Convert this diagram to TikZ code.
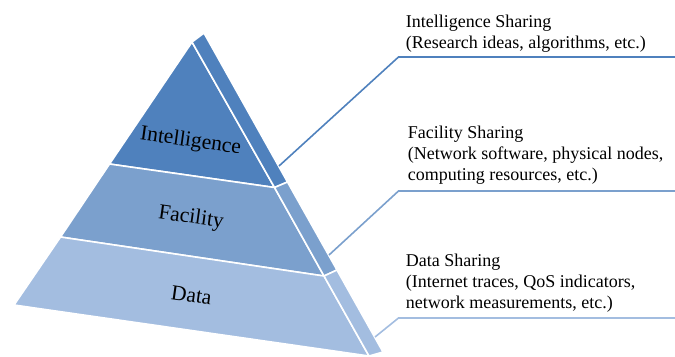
\documentclass[tikz,border=0pt]{standalone}
\usepackage{fontspec}
\setmainfont{Liberation Serif}
\usepackage{tikz}

\definecolor{intelblue}{HTML}{4F81BD}
\definecolor{facblue}{HTML}{7BA0CD}
\definecolor{datablue}{HTML}{A3BDE0}

\begin{document}
\begin{tikzpicture}[x=1bp,y=-1bp,
    layer/.style={draw=white,line width=1.6bp,line join=round},
    tier/.style={font=\fontsize{21.5bp}{24bp}\selectfont,rotate=-8,inner sep=0pt},
    share/.style={anchor=north west,inner sep=0pt,align=left,font=\fontsize{18bp}{21bp}\selectfont},
    link/.style={line width=1.6bp}]
  \useasboundingbox (0,0) rectangle (675,356);
  \clip (0,0) rectangle (675,356);
  \coordinate (top) at (192,42);
  \coordinate (il) at (109.5,164);
  \coordinate (ir) at (274.5,187.5);
  \coordinate (fl) at (60.5,237);
  \coordinate (fr) at (324,276);
  \coordinate (dl) at (14,305);
  \coordinate (dr) at (369,356);
  \coordinate (stop) at (204,33);
  \coordinate (si) at (287.5,182);
  \coordinate (sf) at (337,270);
  \coordinate (sd) at (383,352);
  \path[layer,fill=intelblue] (top) -- (il) -- (ir) -- cycle;
  \path[layer,fill=facblue] (il) -- (fl) -- (fr) -- (ir) -- cycle;
  \path[layer,fill=datablue] (fl) -- (dl) -- (dr) -- (fr) -- cycle;
  \path[layer,fill=intelblue] (top) -- (stop) -- (si) -- (ir) -- cycle;
  \path[layer,fill=facblue] (ir) -- (si) -- (sf) -- (fr) -- cycle;
  \path[layer,fill=datablue] (fr) -- (sf) -- (sd) -- (dr) -- cycle;
  \node[tier] (intel) at (190.5,141.5) {Intelligence};
  \node[tier] (fac) at (191,218) {Facility};
  \node[tier] (data) at (191.5,295) {Data};
  \node[share] (intel-text) at (405.7,14.5) {Intelligence Sharing\\(Research ideas, algorithms, etc.)};
  \node[share] (fac-text) at (407.7,125.8) {Facility Sharing\\(Network software, physical nodes,\\computing resources, etc.)};
  \node[share] (data-text) at (405.7,254.2) {Data Sharing\\(Internet traces, QoS indicators,\\network measurements, etc.)};
  \coordinate (intel-a) at (279,166);
  \coordinate (intel-b) at (398.5,57);
  \coordinate (intel-c) at (676,57);
  \coordinate (fac-a) at (329,255);
  \coordinate (fac-b) at (398.5,191);
  \coordinate (fac-c) at (676,191);
  \coordinate (data-a) at (375,337);
  \coordinate (data-b) at (398.5,318);
  \coordinate (data-c) at (676,318);
  \draw[link,intelblue] (intel-a) -- (intel-b) -- (intel-c);
  \draw[link,facblue] (fac-a) -- (fac-b) -- (fac-c);
  \draw[link,datablue] (data-a) -- (data-b) -- (data-c);
\end{tikzpicture}
\end{document}
